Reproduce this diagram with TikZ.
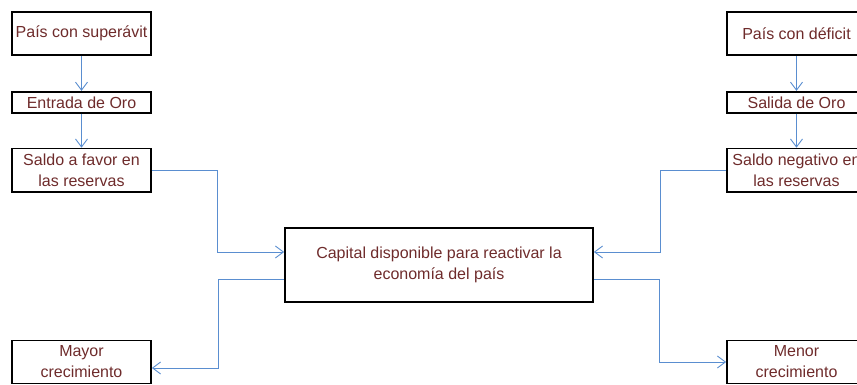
\documentclass[tikz,border=0pt]{standalone}
\usepackage{fontspec}
\setmainfont{Liberation Sans}
\usetikzlibrary{arrows.meta,positioning}

\definecolor{textred}{RGB}{110,43,43}
\definecolor{lineblue}{RGB}{90,142,208}

\begin{document}
\begin{tikzpicture}[x=1pt,y=-1pt,>={Straight Barb[length=8pt,width=12pt]}]
    \tikzset{box/.style={
      draw,
      rectangle,
      line width=1.8pt,
      align=center,
      text=textred,
      font=\fontsize{16}{21}\selectfont,
      minimum width=139pt,
      minimum height=43pt,
      inner sep=1pt
    },
    thinbox/.style={box, minimum height=21pt},
    link/.style={draw=lineblue, line width=0.9pt, ->}};

    \clip (0,0) rectangle (857,385);

    % left column
    \node [box] (superavit) at (81.5,33.5) {País con superávit};
    \node [thinbox, below=35pt of superavit] (entrada) {Entrada de Oro};
    \node [box, below=34pt of entrada] (favor) {Saldo a favor en\\las reservas};

    % right column
    \node [box] (deficit) at (796.5,33.5) {País con déficit};
    \node [thinbox, below=35pt of deficit] (salida) {Salida de Oro};
    \node [box, below=34pt of salida] (negativo) {Saldo negativo en\\las reservas};

    % centre
    \node [box, minimum width=308pt, minimum height=74pt] (capital) at (439,265)
      {Capital disponible para reactivar la\\economía del país};

    \node [box] (mayor) at (81.5,362) {Mayor\\crecimiento};
    \node [box] (menor) at (796.5,362) {Menor\\crecimiento};

    \path[link] (superavit) edge (entrada)
      (entrada) edge (favor)
      (deficit) edge (salida)
      (salida) edge (negativo);

    \draw[link] (favor.east) -- ++(66,0) |- ([yshift=13pt]capital.west);
    \draw[link] (negativo.west) -- ++(-66,0) |- ([yshift=13pt]capital.east);
    \draw[link] ([yshift=-14pt]capital.west) -- ++(-66,0) |- ([yshift=-6pt]mayor.east);
    \draw[link] ([yshift=-14pt]capital.east) -- ++(66,0) |- (menor.west);
  \end{tikzpicture}
\end{document}
